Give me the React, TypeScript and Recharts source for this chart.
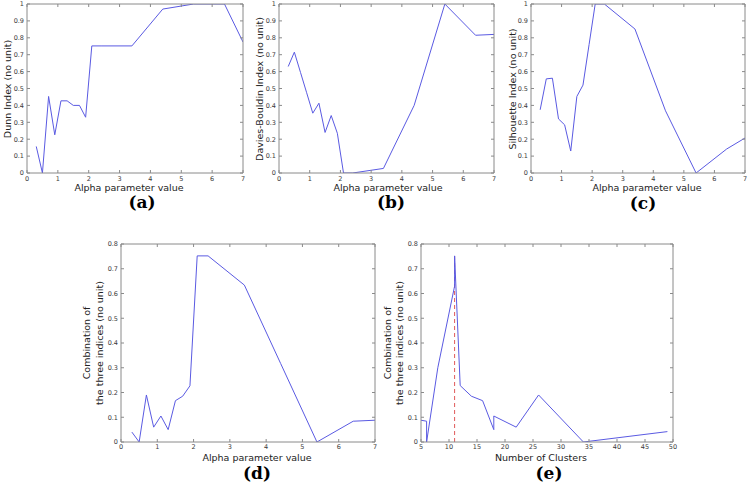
import { Line, LineChart, ReferenceLine, XAxis, YAxis } from "recharts";

// alpha values used for panels (a)-(d)
const alpha = [0.3, 0.5, 0.7, 0.9, 1.1, 1.3, 1.5, 1.7, 1.9, 2.1, 2.4, 3.4, 4.4, 5.4, 6.4, 7];
const dunn = [0.157, 0, 0.453, 0.226, 0.427, 0.427, 0.4, 0.4, 0.33, 0.752, 0.752, 0.752, 0.97, 1.0, 1.0, 0.775];
const daviesBouldin = [0.63, 0.715, 0.595, 0.475, 0.354, 0.413, 0.24, 0.34, 0.235, 0, 0, 0.027, 0.4, 1.0, 0.815, 0.82];
const silhouette = [0.374, 0.557, 0.561, 0.32, 0.285, 0.13, 0.453, 0.52, 0.76, 1.0, 1.0, 0.852, 0.368, 0, 0.142, 0.207];
const combined = [0.04, 0, 0.19, 0.06, 0.105, 0.05, 0.167, 0.185, 0.227, 0.752, 0.752, 0.634, 0.317, 0, 0.084, 0.088];

// panel (e): same combination, against number of clusters
const clusters = [5, 6, 6, 8, 11, 11, 11, 12, 14, 16, 18, 18, 22, 26, 34, 49];
const combinedByClusters = [0.088, 0.084, 0, 0.3, 0.63, 0.752, 0.752, 0.228, 0.185, 0.167, 0.05, 0.105, 0.06, 0.19, 0, 0.042];
const bestClusters = 11;
const bestValue = 0.752;

const alphaTicks = [0, 1, 2, 3, 4, 5, 6, 7];
const unitTicks = [0, 0.1, 0.2, 0.3, 0.4, 0.5, 0.6, 0.7, 0.8, 0.9, 1];
const combTicks = [0, 0.1, 0.2, 0.3, 0.4, 0.5, 0.6, 0.7, 0.8];
const clusterTicks = [5, 10, 15, 20, 25, 30, 35, 40, 45, 50];

const FRAME = "#8a8a8a";
const TICK_TEXT = "#3a3a3a";
const BLUE = "#5a5ae2";
const SANS = "'DejaVu Sans', sans-serif";

const YW = 30;
const PAD = 6;
const XH = 22;

type Pt = { x: number; y: number };

const zip = (xs: number[], ys: number[]): Pt[] => xs.map((x, i) => ({ x, y: ys[i] }));

type PanelProps = {
  left: number;
  top: number;
  w: number;
  h: number;
  data: Pt[];
  xDomain: [number, number];
  xTicks: number[];
  yDomain: [number, number];
  yTicks: number[];
  yLabel: string[];
  yLabelX: number[];
  xLabel: string;
  xLabelX: number;
  xLabelY: number;
  caption: string;
  captionX: number;
  captionY: number;
  tickGap?: number;
  marker?: boolean;
};

function Panel(p: PanelProps) {
  const tick = { fill: TICK_TEXT, fontSize: 6.5, fontFamily: SANS };
  const blank = () => "";
  const cy = p.top + p.h / 2;
  return (
    <>
      <div style={{ position: "absolute", left: p.left - YW, top: p.top - PAD - 1 }}>
        <LineChart
          width={YW + p.w + 1 + PAD}
          height={PAD + 1 + p.h + XH}
          data={p.data}
          margin={{ top: PAD, right: PAD, left: 0, bottom: 0 }}
        >
          <XAxis
            type="number"
            dataKey="x"
            domain={p.xDomain}
            ticks={p.xTicks}
            interval={0}
            allowDataOverflow
            height={XH}
            stroke={FRAME}
            tickSize={-3}
            tickMargin={p.tickGap ?? 6}
            tick={tick}
          />
          <XAxis
            xAxisId="top"
            orientation="top"
            type="number"
            dataKey="x"
            domain={p.xDomain}
            ticks={p.xTicks}
            interval={0}
            allowDataOverflow
            height={1}
            stroke={FRAME}
            tickSize={-3}
            tickFormatter={blank}
          />
          <YAxis
            type="number"
            domain={p.yDomain}
            ticks={p.yTicks}
            interval={0}
            allowDataOverflow
            width={YW}
            stroke={FRAME}
            tickSize={-3}
            tickMargin={6}
            tick={tick}
          />
          <YAxis
            yAxisId="right"
            orientation="right"
            type="number"
            domain={p.yDomain}
            ticks={p.yTicks}
            interval={0}
            allowDataOverflow
            width={1}
            stroke={FRAME}
            tickSize={-3}
            tickFormatter={blank}
          />
          {p.marker && (
            <ReferenceLine
              segment={[
                { x: bestClusters, y: 0 },
                { x: bestClusters, y: bestValue },
              ]}
              stroke="#e05a5a"
              strokeDasharray="4 3"
              strokeWidth={1}
            />
          )}
          <Line
            type="linear"
            dataKey="y"
            stroke={BLUE}
            strokeWidth={1}
            dot={false}
            isAnimationActive={false}
          />
        </LineChart>
      </div>
      {p.yLabel.map((line, i) => (
        <div
          key={i}
          style={{
            position: "absolute",
            left: p.yLabelX[i],
            top: cy,
            transform: "translate(-50%, -50%) rotate(-90deg)",
            whiteSpace: "nowrap",
            fontFamily: SANS,
            fontSize: 9.5,
            color: "#222",
            lineHeight: 1,
          }}
        >
          {line}
        </div>
      ))}
      <div
        style={{
          position: "absolute",
          left: p.xLabelX,
          top: p.xLabelY,
          transform: "translate(-50%, -50%)",
          whiteSpace: "nowrap",
          fontFamily: SANS,
          fontSize: 9.5,
          color: "#222",
          lineHeight: 1,
        }}
      >
        {p.xLabel}
      </div>
      <div
        style={{
          position: "absolute",
          left: p.captionX,
          top: p.captionY,
          transform: "translate(-50%, -50%)",
          whiteSpace: "nowrap",
          fontFamily: "'DejaVu Serif', serif",
          fontWeight: "bold",
          fontSize: 17,
          color: "#000",
          lineHeight: 1,
        }}
      >
        {p.caption}
      </div>
    </>
  );
}

export default function App() {
  return (
    <div style={{ position: "absolute", left: 0, top: 0, width: 750, height: 485, background: "#fff", overflow: "hidden" }}>
      <Panel
        left={27} top={4} w={216} h={169}
        data={zip(alpha, dunn)}
        xDomain={[0, 7]} xTicks={alphaTicks} yDomain={[0, 1]} yTicks={unitTicks}
        yLabel={["Dunn Index (no unit)"]} yLabelX={[8]}
        xLabel="Alpha parameter value" xLabelX={129} xLabelY={188}
        caption="(a)" captionX={142} captionY={202}
      />
      <Panel
        left={279} top={4} w={215} h={169}
        data={zip(alpha, daviesBouldin)}
        xDomain={[0, 7]} xTicks={alphaTicks} yDomain={[0, 1]} yTicks={unitTicks}
        yLabel={["Davies-Bouldin Index (no unit)"]} yLabelX={[260]}
        xLabel="Alpha parameter value" xLabelX={388} xLabelY={188}
        caption="(b)" captionX={391} captionY={202}
      />
      <Panel
        left={531} top={4} w={214} h={169}
        data={zip(alpha, silhouette)}
        xDomain={[0, 7]} xTicks={alphaTicks} yDomain={[0, 1]} yTicks={unitTicks}
        yLabel={["Silhouette Index (no unit)"]} yLabelX={[513]}
        xLabel="Alpha parameter value" xLabelX={647} xLabelY={188}
        caption="(c)" captionX={643} captionY={203}
      />
      <Panel
        left={121} top={244} w={254} h={198}
        data={zip(alpha, combined)}
        xDomain={[0, 7]} xTicks={alphaTicks} yDomain={[0, 0.8]} yTicks={combTicks}
        yLabel={["Combination of", "the three indices (no unit)"]} yLabelX={[87, 100]}
        xLabel="Alpha parameter value" xLabelX={257} xLabelY={458}
        caption="(d)" captionX={257} captionY={473}
        tickGap={5}
      />
      <Panel
        left={421} top={244} w={252} h={198}
        data={zip(clusters, combinedByClusters)}
        xDomain={[5, 50]} xTicks={clusterTicks} yDomain={[0, 0.8]} yTicks={combTicks}
        yLabel={["Combination of", "the three indices (no unit)"]} yLabelX={[388, 400]}
        xLabel="Number of Clusters" xLabelX={541} xLabelY={458}
        caption="(e)" captionX={549} captionY={473}
        tickGap={5}
        marker
      />
    </div>
  );
}
